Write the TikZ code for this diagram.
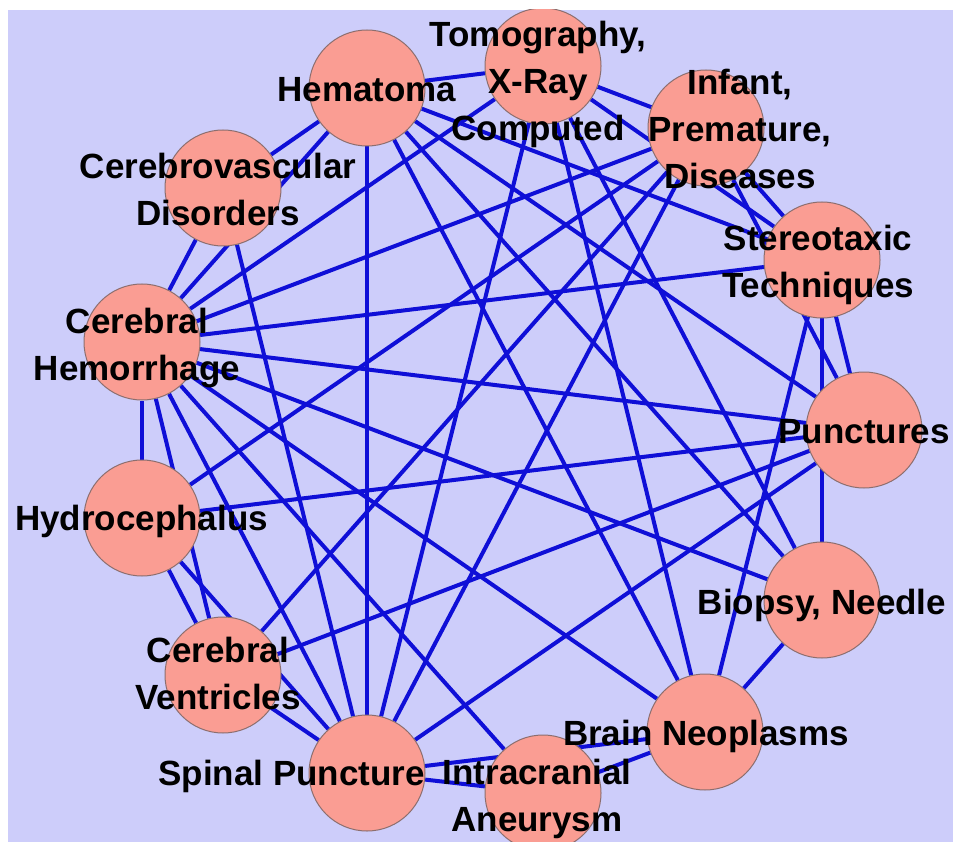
\documentclass[tikz,border=0pt]{standalone}
\usepackage{fontspec}
\setmainfont{Liberation Sans}
\pgfdeclarelayer{bg}
\pgfdeclarelayer{edges}
\pgfsetlayers{bg,edges,main}
\definecolor{lav}{RGB}{205,205,250}
\definecolor{nodefill}{RGB}{250,157,147}
\definecolor{nodeline}{RGB}{140,110,110}
\definecolor{edgeblue}{RGB}{15,15,215}
\begin{document}
\begin{tikzpicture}[x=1pt,y=-1pt,
  vtx/.style={circle,draw=nodeline,fill=nodefill,line width=1pt,minimum size=116pt,inner sep=0pt},
  lbl/.style={font=\fontsize{35}{47}\selectfont\bfseries,align=center,text=black,inner sep=0pt},
  conn/.style={draw=edgeblue,line width=4pt}]
\useasboundingbox (0,0) rectangle (953,842);
\begin{pgfonlayer}{bg}
\fill[white] (0,0) rectangle (953,842);
\fill[lav] (8,10) rectangle (953,842);
\end{pgfonlayer}
\clip (8,10) rectangle (953,842);
% vertices
\node[vtx] (A)  at (367,88)  {};
\node[vtx] (T)  at (543,66)  {};
\node[vtx] (I)  at (706,128) {};
\node[vtx] (S)  at (822,260) {};
\node[vtx] (P)  at (864,430) {};
\node[vtx] (B)  at (822,600) {};
\node[vtx] (N)  at (705,732) {};
\node[vtx] (IA) at (543,793) {};
\node[vtx] (SP) at (367,773) {};
\node[vtx] (CV) at (223,675) {};
\node[vtx] (HY) at (142,518) {};
\node[vtx] (CH) at (142,342) {};
\node[vtx] (CD) at (223,188) {};
% edges
\begin{pgfonlayer}{edges}
\foreach \a/\b in {A/T,A/S,A/P,A/B,A/N,A/SP,A/CD,A/CH,
  T/I,T/S,T/CH,T/N,T/B,T/SP,
  I/S,I/P,I/CH,I/HY,I/CV,I/SP,
  S/B,S/N,S/P,S/CH,
  P/CH,P/HY,P/CV,P/SP,
  B/N,B/CH,
  N/IA,N/SP,N/CH,
  IA/SP,IA/CH,
  SP/CV,SP/CD,SP/CH,SP/HY,
  CV/HY,CV/CH,
  HY/CH,
  CH/CD}
  \draw[conn] (\a) -- (\b);
\end{pgfonlayer}
% labels
\node[lbl] (lT)  at (538,84.5) {Tomography,\\X-Ray\\Computed};
\node[lbl] (lA)  at (367,90)   {Hematoma};
\node[lbl] (lI)  at (740,129)  {Infant,\\Premature,\\Diseases};
\node[lbl] (lS)  at (818,264.5) {Stereotaxic\\Techniques};
\node[lbl] (lP)  at (864,432)  {Punctures};
\node[lbl] (lB)  at (822,605)  {Biopsy, Needle};
\node[lbl] (lN)  at (706,736.5) {Brain Neoplasms};
\node[lbl] (lIA) at (537,798.5) {Intracranial\\Aneurysm};
\node[lbl] (lSP) at (291.5,776.5) {Spinal Puncture};
\node[lbl] (lCV) at (218,673)  {Cerebral\\Ventricles};
\node[lbl] (lHY) at (141.5,521.5) {Hydrocephalus};
\node[lbl] (lCH) at (137,348.5) {Cerebral\\Hemorrhage};
\node[lbl] (lCD) at (218,189)  {Cerebrovascular\\Disorders};
\end{tikzpicture}
\end{document}
